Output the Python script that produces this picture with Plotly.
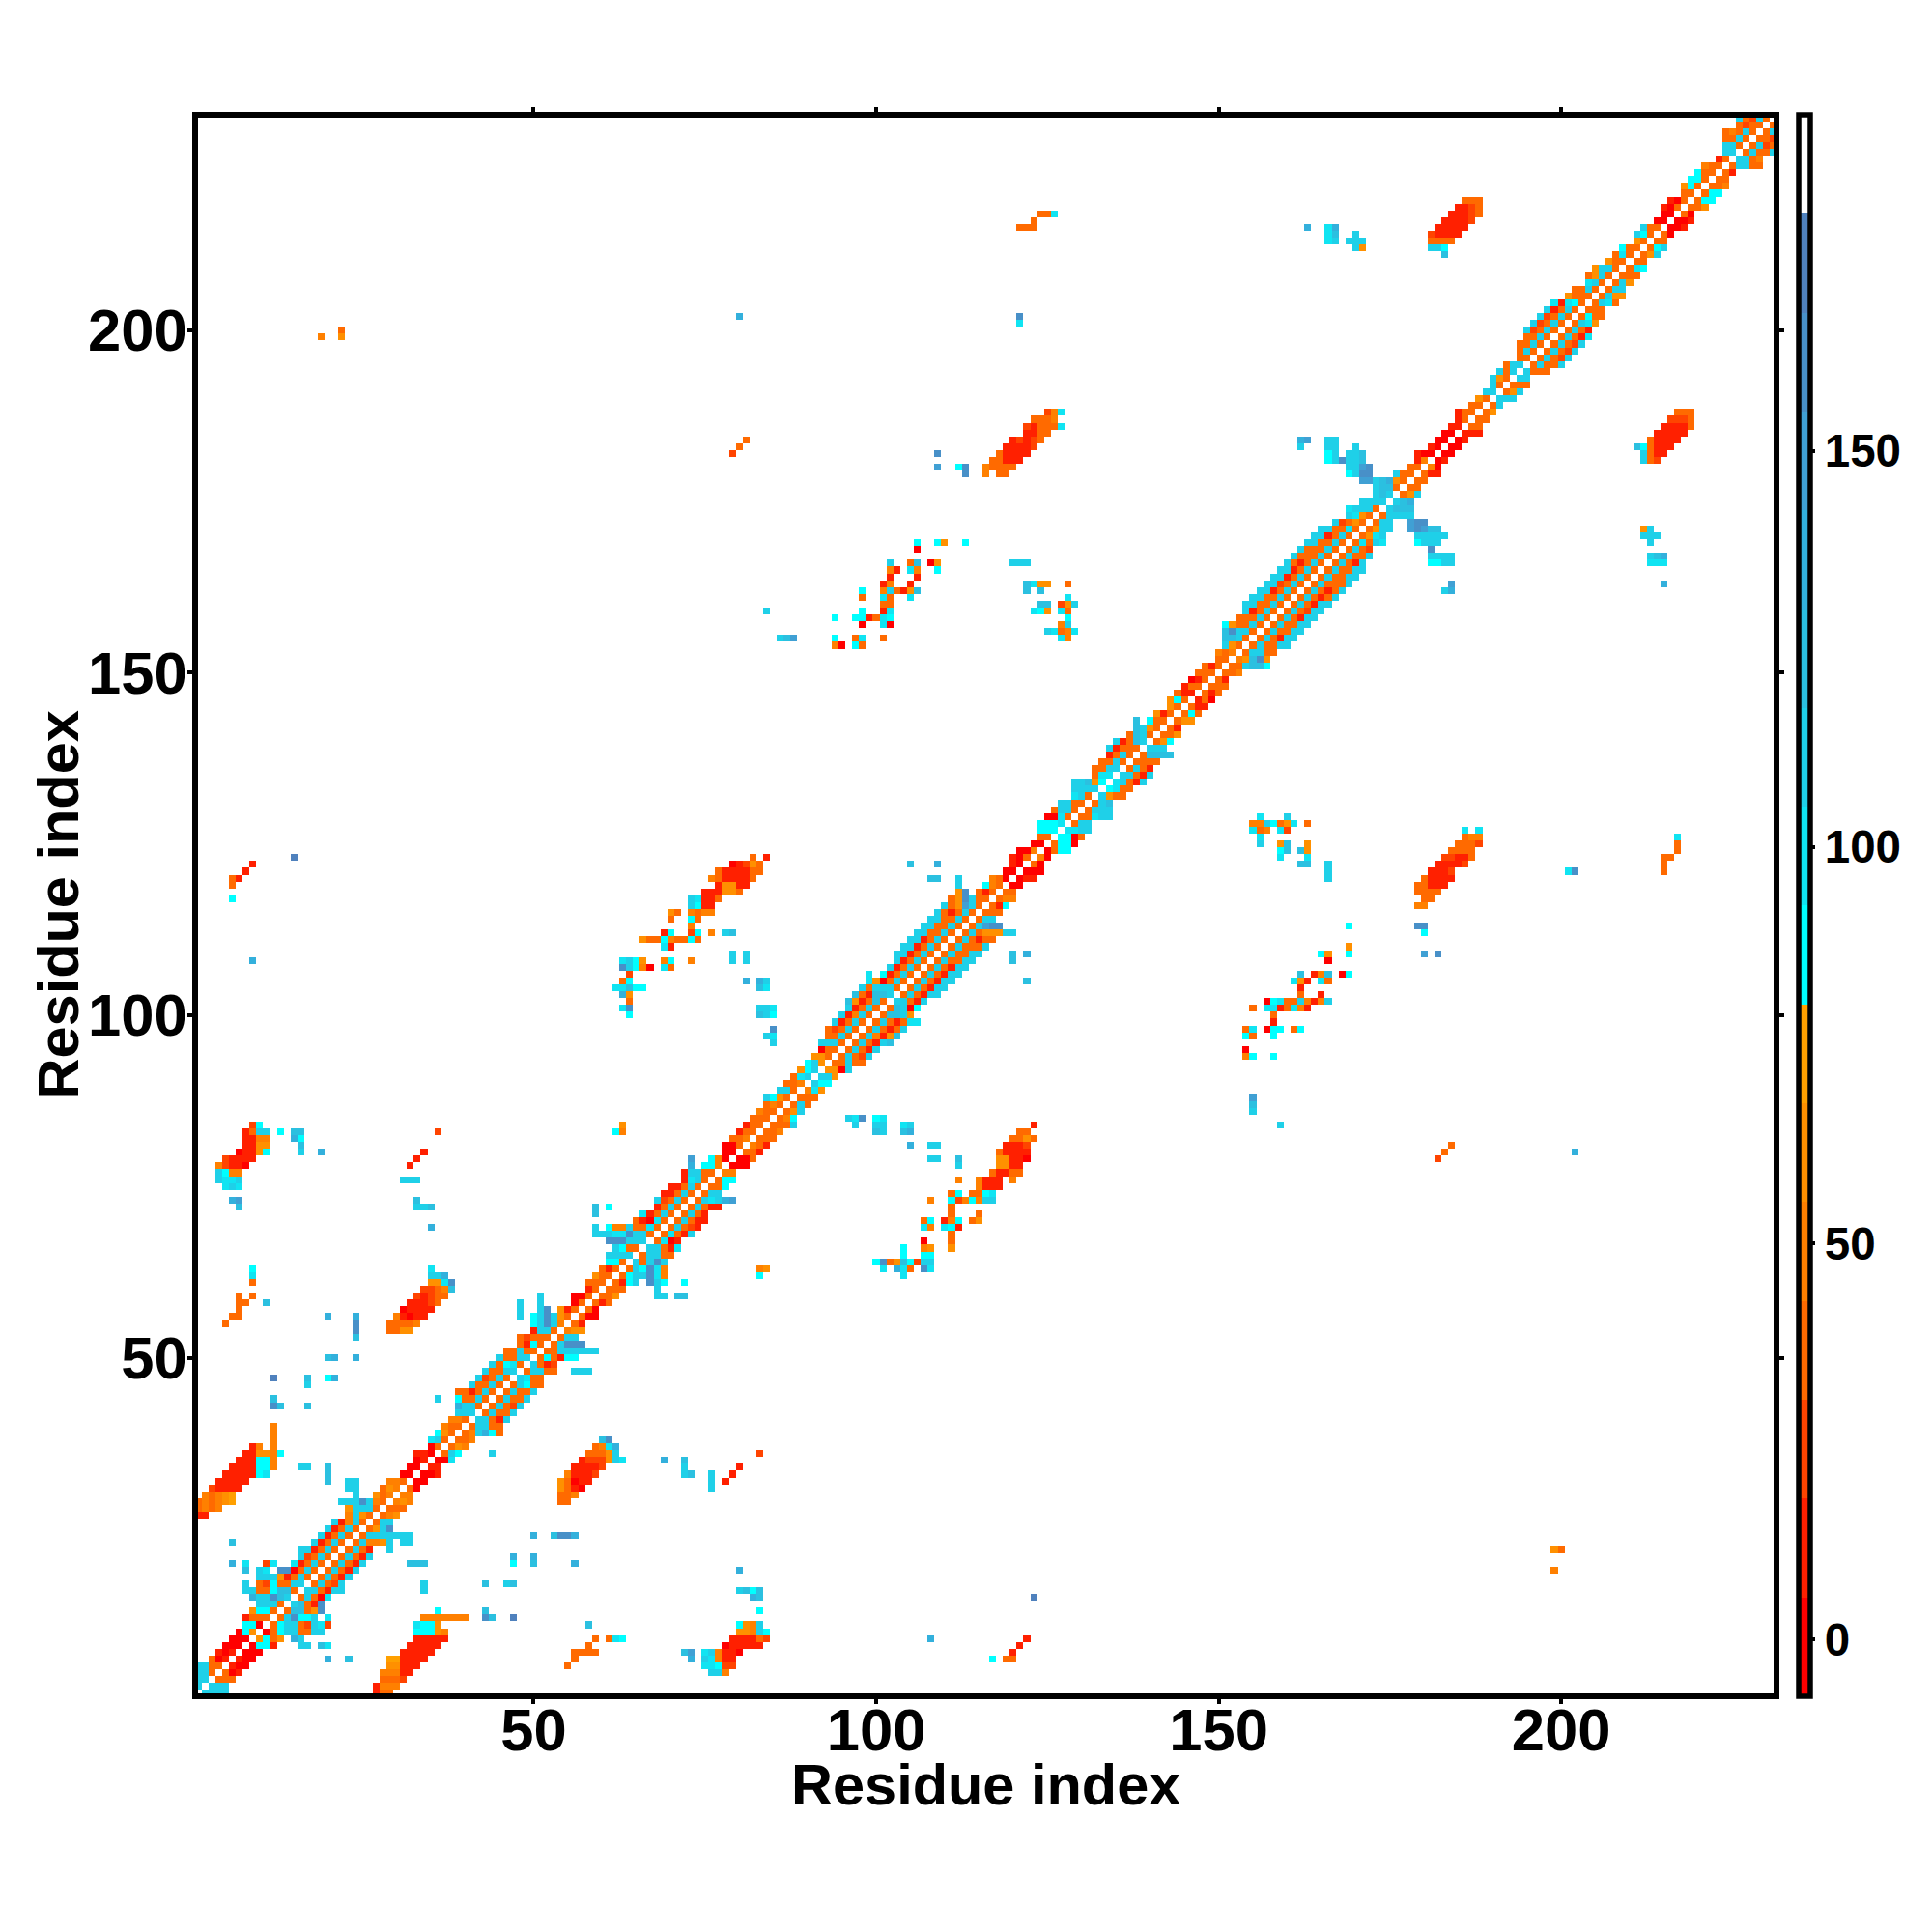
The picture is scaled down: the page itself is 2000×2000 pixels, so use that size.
import plotly.graph_objects as go

# colour classes (value at the middle of each band)
level_codes = "0123456789ABCDE"
level_values = [-0.96, 11.51, 23.99, 36.46, 48.94, 61.41, 73.89, 86.37, 98.84,
                111.32, 123.79, 136.27, 148.74, 161.22, 173.69]
band_colors = ["#ff0000", "#ff2000", "#ff4400", "#ff6a00", "#ff8000", "#ff9000", "#ffa000",
               "#00ffff", "#10e4f2", "#1fd0e8", "#2bc0e0", "#33b0dc", "#40a0d4", "#4890c8", "#4f81bd",
               "#ffffff"]
n_residues = 231
tick_positions = [50, 100, 150, 200]
colorbar_ticks = [0, 50, 100, 150]
axis_label = "Residue index"

# rows next to the diagonal: key y, codes for x = y+1, y+2, ...
diagonal_rows = {
1:"9999",2:"999",3:"333",4:"301",5:"100",6:"100",7:"000",8:"0771",9:"5735",10:"037993399",11:"379932982",
12:"39D779.8",13:"3AA35D",14:"9A31D",15:"39308",16:"993199",17:"39329",18:"39319",19:"39319",20:"39319",
21:"39319",22:"3931..9",23:"394459.99",24:"39999999",25:"359D",26:"399",27:"345",28:"333",29:"454",30:"44",
31:"30",32:"00",33:"001",34:"11",35:"008",36:"397....9",37:"354",38:"334",39:"349B73",40:"39933",
41:"99319",42:"39339",43:"39329",44:"39339",45:"39339",46:"39733",47:"9833",48:"39933..999",49:"9312",50:"373177",
51:"33999999",52:"39DDD",53:"399",54:"455",55:"31",56:"300",57:"30",58:"313",59:"335.....99.AA",60:"333....9",
61:"3179.D97..7",62:"3799D84",63:"397D84",64:"939D9",65:"39933",66:"99318",67:"3801",68:"38319",69:"39321",70:"39311",
71:"3931",72:"39311",73:"3989BC",74:"399",75:"337",76:"377",77:"44",78:"000",79:"003",80:"331",
81:"431",82:"333",83:"334",84:"3339",85:"347",86:"359",87:"393",88:"333",89:"485",90:"977",
91:"995",92:"5509",93:"33933",94:"39329",95:"39319",96:"39319A",97:"39415A",98:"393139",99:"3931388",100:"3AA95",
101:"3A907",102:"99319",103:"393199",104:"393199",105:"393199..........A",106:"393199",107:"393199",108:"393399.....A",
109:"393399....A.B",110:"393339",111:"393133",112:"39355599",113:"39CDD",114:"399",115:"333",116:"317",117:"344",118:"33",
119:"00",120:"011",121:"000",122:"30",123:"40",124:"0377",125:"3770",126:"7703",127:"8899",128:"399",
129:"33899",130:"3999",131:"39A",132:"9533",133:"7833",134:"89319",135:"99319",136:"3931",137:"3333",138:"3AAAA",
139:"999",140:"357",141:"335",142:"31",143:"355",144:"373",145:"311",146:"130",147:"313",148:"333",
149:"31",150:"334",151:"339AA7",152:"45AD5",153:"39933",154:"393399",155:"393199",156:"393399",157:"393399",158:"393199",
159:"393299",160:"393199",161:"393139",162:"393139..............9B",163:"393339..............C",164:"393399",165:"393399",
166:"39319.........7799",167:"39339........9999",168:"3932........D",169:"38398....7999",170:"3589....99999",
171:"3599..CDCAA",172:"399..CDD",173:"39999",174:"9AAA",175:"9AB",176:"359",177:"33",178:"33",179:"311",180:"40",
181:"01",182:"00",183:"00",184:"01",185:"111",186:"33",187:"33",188:"35",189:"39",190:"999",
191:"359",192:"333",193:"99",194:"9333",195:"39339",196:"39329",197:"39329",198:"39329",199:"39318",200:"3931",
201:"3985",202:"3733",203:"333",204:"3983",205:"3955",206:"399",207:"395",208:"333",209:"387",210:"33",
211:"359",212:"379",213:"33",214:"30",215:"001",216:"001",217:"30",218:"335",219:"377",220:"377",
221:"334",222:"33",223:"31",224:"39933",225:"9934",226:"39339",227:"3923",228:"332",229:"39",230:"3",
}

# off-diagonal patches: (y, first x, codes); the map mirrors them across the diagonal
patch_low_left = [
(1,27,"133"),(2,27,"1444"),(3,28,"3332"),(4,28,"44411"),(5,29,"55111"),(6,29,"661111"),(7,31,"11111"),
(8,32,"11111"),(9,33,"11111"),(10,33,"77754"),(11,33,"8775"),(12,34,"4444444"),(13,36,"7"),
(13,43,"A"),(12,43,"DA"),(12,47,"E"),(17,43,"A"),(17,46,"9A"),(21,47,"B"),(20,47,"7"),(21,50,"B"),(20,50,"A"),
(20,56,"B"),(24,50,"B"),(24,53,"ADDB"),(20,32,"AAA"),(17,34,"9"),(16,34,"9"),(9,15,"B9"),(8,16,"99"),(8,19,"A8"),
(6,20,"B"),(6,23,"A"),
]
patch_55_38 = [
(38,60,"AD"),(37,59,"348B"),(36,58,"33359"),(35,57,"1222598"),(34,56,"11112"),(33,55,"41112"),(32,54,"53011"),
(31,54,"5310"),(30,54,"334"),(29,54,"33"),
(11,58,"A"),(9,59,"3.387"),(8,58,"3"),(7,56,"3333"),(6,56,"3"),(5,55,"3"),
(35,69,"B"),(35,72,"A"),(34,72,"9"),(33,72,"9A"),(33,76,"9"),(32,76,"9"),(31,76,"9"),
(7,72,"AC"),(6,73,"B"),(7,75,"894"),(6,75,"984"),(5,75,"887"),(4,76,"99"),
]
patch_80_10 = [
(11,80,"7549"),(10,80,"55497"),(9,79,"111132"),(8,78,"011111"),(7,78,"110"),(6,78,"11"),(5,78,"22"),(4,78,"4"),
(36,83,"2"),(34,80,"1"),(33,79,"1"),(32,78,"1"),(19,80,"B"),(16,80,"9A7A"),(15,82,"BA"),(13,83,"7"),
(9,108,"B"),(15,123,"E"),(9,122,"1"),(8,121,"1"),(7,120,"1"),(6,119,"33"),(6,117,"7"),(63,83,"45"),(62,83,"7"),
]
patch_120_78 = [
(84,123,"1"),(83,121,"33"),(82,120,"3353"),(81,119,"1112"),(80,118,"31111"),
(79,118,"55110"),(79,108,"99"),(79,112,"A"),(78,112,"9"),(78,118,"5511"),(77,117,"31133"),(76,112,"4"),(76,115,"4111.4"),
(75,115,"4111"),(74,111,"37"),(74,114,"3378"),(73,108,"4"),(73,111,"7247499"),(72,111,"3"),(71,111,"3"),(71,115,"3"),
(70,107,"37"),(70,110,"147"),(70,114,"35"),(69,107,"84"),(69,110,"871"),(68,111,"3"),(67,107,"0"),(67,111,"3"),
(66,107,"45"),(66,111,"5"),(66,104,"7"),(65,104,"7"),(65,107,"77"),(64,100,"7D"),(64,102,"35A7299"),(63,101,"8"),
(63,103,"B83"),(63,107,"D8"),(62,104,"8"),
(85,96,"98D"),(84,97,"9"),(85,100,"78"),(84,100,"99"),(83,100,"A9"),(84,104,"89"),(83,104,"AB"),(81,105,"B"),(81,108,"99"),
]
patch_160_105 = [
(129,156,"8"),(129,160,"9"),(128,155,"44"),(128,157,"97"),(128,159,"358"),(128,163,"3"),(127,155,"834"),(127,159,"82"),
(126,156,"8"),(125,156,"9"),(125,159,"5A"),(125,163,"5"),(124,159,"7A"),(124,162,"A5"),(123,159,"8"),(123,163,"8"),
(122,162,"AA"),(122,166,"9"),(121,166,"9"),(120,166,"9"),
(113,169,"7"),(110,169,"5"),(109,165,"75"),(109,169,"7"),(108,166,"0"),(106,162,"A"),(106,164,"14A"),(106,168,"07"),
(105,161,"851"),(105,165,"83"),(104,162,"1"),(103,162,"3"),(103,165,"1"),(102,157,"0783"),(102,161,"394"),(102,164,"149"),
(101,155,"3"),(101,157,"88"),(101,159,"13841"),(100,158,"3"),(99,158,"1"),(98,154,"38"),(98,157,"077"),(98,161,"37"),
(97,154,"73"),(97,158,"7"),(95,154,"0"),(94,154,"47"),(94,158,"7"),(88,155,"C"),(87,155,"A"),(86,155,"9"),(84,159,"9"),
]
patch_185_120 = [
(127,186,"8"),(127,188,"8"),(126,186,"344"),(125,185,"3332"),(124,184,"3333"),(123,183,"22113"),(122,182,"11112"),
(121,181,"1112"),(120,180,"31111"),(119,179,"33111"),(118,179,"3333"),(117,180,"33"),(116,179,"44"),
(113,179,"DD"),(112,180,"7"),(109,180,"C"),(109,182,"D"),(121,201,"8D"),(126,217,"8"),(125,217,"3"),(124,217,"3"),
(123,215,"33"),(122,215,"3"),(121,215,"3"),(81,184,"3"),(80,183,"3"),(79,182,"2"),(80,202,"B"),(22,199,"53"),(19,199,"4"),
]
patch_215_185 = [
(188,217,"333"),(187,216,"2223"),(186,215,"11113"),(185,214,"11111"),(184,213,"31111"),(183,211,"A73111"),
(182,212,"9311"),(181,212,"932"),(171,212,"59"),(170,212,"999"),(169,213,"9"),(167,213,"9AB"),(166,213,"888"),(163,215,"B"),
]
all_patches = [patch_low_left, patch_55_38, patch_80_10, patch_120_78, patch_160_105, patch_185_120, patch_215_185]

code_value = dict(zip(level_codes, level_values))
z = [[None] * n_residues for _ in range(n_residues)]


def put(y, x0, codes):
    for k, c in enumerate(codes):
        x = x0 + k
        if c in code_value and x <= n_residues:
            z[y - 1][x - 1] = code_value[c]
            z[x - 1][y - 1] = code_value[c]


for y, codes in diagonal_rows.items():
    put(y, y + 1, codes)
for patch in all_patches:
    for y, x0, codes in patch:
        put(y, x0, codes)

axis_values = list(range(1, n_residues + 1))
n_bands = len(band_colors)
colorscale = []
for k, c in enumerate(band_colors):
    colorscale += [[k / n_bands, c], [(k + 1) / n_bands, c]]

font_name = "Liberation Sans"
title_font = dict(family=font_name, size=59.5, color="black", weight=700)
fig = go.Figure(go.Heatmap(
    z=z, x=axis_values, y=axis_values, zmin=-7.2, zmax=192.4, colorscale=colorscale,
    hoverongaps=False,
    colorbar=dict(
        thickness=11.5, thicknessmode="pixels", len=1.0037, lenmode="fraction",
        x=1.0161, xanchor="left", xpad=0, y=0.5, yanchor="middle", ypad=0,
        outlinewidth=5.5, outlinecolor="black", borderwidth=0,
        tickmode="array", tickvals=colorbar_ticks, ticktext=[str(v) for v in colorbar_ticks],
        ticks="outside", ticklen=3, tickwidth=4, tickcolor="black",
        tickfont=dict(family=font_name, size=47.5, color="black", weight=700),
    ),
))
axis_common = dict(
    range=[1, n_residues], tickmode="array", tickvals=tick_positions, ticktext=[str(v) for v in tick_positions],
    ticks="outside", ticklen=5, tickwidth=4, tickcolor="black",
    showline=True, linewidth=6, linecolor="black", mirror="ticks", showgrid=False, zeroline=False,
    tickfont=dict(family=font_name, size=61.5, color="black", weight=700),
)
fig.update_xaxes(ticklabelstandoff=-26, **axis_common)
fig.update_yaxes(ticklabelstandoff=-12, **axis_common)
fig.update_layout(
    width=1984, height=1984, autosize=False,
    margin=dict(l=197, r=156, t=114, b=239, autoexpand=False),
    plot_bgcolor="white", paper_bgcolor="white",
    annotations=[
        dict(text=axis_label, xref="paper", yref="paper", x=0.5, y=-0.0582, xanchor="center", yanchor="middle",
             showarrow=False, font=title_font),
        dict(text=axis_label, xref="paper", yref="paper", x=-0.0889, y=0.5, xanchor="center", yanchor="middle",
             textangle=-90, showarrow=False, font=title_font),
    ],
)
fig.write_html("out.html")
